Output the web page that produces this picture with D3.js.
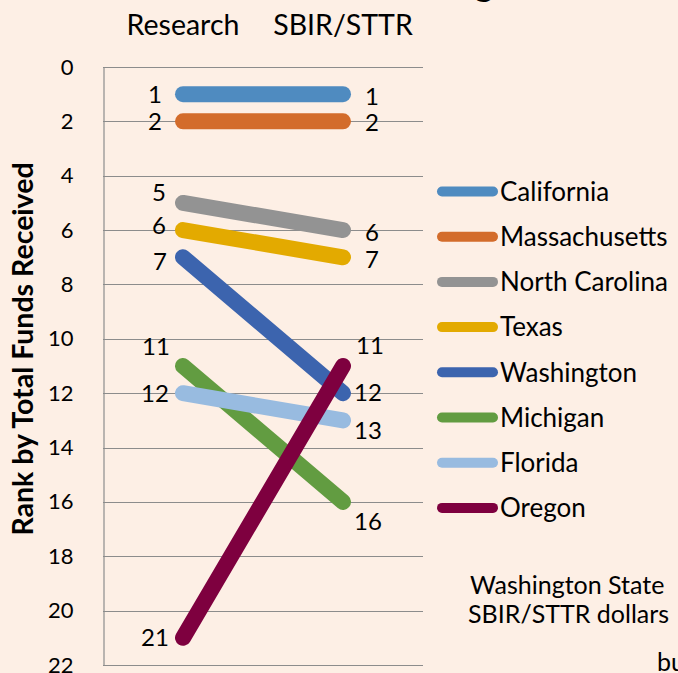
<!DOCTYPE html>
<html>
<head>
<meta charset="utf-8">
<script src="https://cdn.jsdelivr.net/npm/d3@7"></script>
<style>
    html, body { margin: 0; padding: 0; background: #fdefe5; }
    #rankChart { width: 678px; height: 673px; overflow: hidden; }
    text { font-family: Lato, "Open Sans", sans-serif; fill: #000; }
</style>
</head>
<body>
<div id="rankChart"></div>
<script>
// Funding categories (x axis, shown on top)
const categories = ["Research", "SBIR/STTR"];

// States in drawing order
const states = ["California", "Massachusetts", "North Carolina", "Texas",
    "Washington", "Michigan", "Florida", "Oregon"];

// Rank in each category, same order as states
const researchRank = [1, 2, 5, 6, 7, 11, 12, 21];
const sbirRank = [1, 2, 6, 7, 12, 16, 13, 11];

const stateColors = ["#4f8bc0", "#d36c2b", "#939393", "#e3aa00",
    "#3c64ae", "#629c41", "#98bbe0", "#7e003f"];

// y axis tick values
const rankTicks = [0, 2, 4, 6, 8, 10, 12, 14, 16, 18, 20, 22];

// Footnote lines that run off the slide
const noteLines = ["Washington State", "SBIR/STTR dollars", "bu"];

function drawRankChart() {
    const width = 678, height = 673;
    const plot = { left: 103, right: 423, top: 67, bottom: 665 };

    const svg = d3.select("#rankChart")
        .append("svg")
        .attr("width", width)
        .attr("height", height);

    svg.append("rect")
        .attr("width", width)
        .attr("height", height)
        .attr("fill", "#fdefe5");

    // leftover bit of the slide title (only the descender shows)
    svg.append("text")
        .attr("x", 484)
        .attr("y", -4)
        .attr("text-anchor", "middle")
        .style("font-size", "36px")
        .style("font-weight", "bold")
        .text("g");

    const x = d3.scaleBand()
        .domain(categories)
        .range([plot.left, plot.right]);

    const y = d3.scaleLinear()
        .domain([0, 22])
        .range([plot.top, plot.bottom]);

    const cx = c => x(c) + x.bandwidth() / 2;

    // horizontal gridlines
    svg.append("g")
        .selectAll("line")
        .data(rankTicks)
        .join("line")
        .attr("x1", plot.left)
        .attr("x2", plot.right)
        .attr("y1", d => Math.round(y(d)) + 0.5)
        .attr("y2", d => Math.round(y(d)) + 0.5)
        .attr("stroke", "#8c8c8c")
        .attr("stroke-width", 1.2);

    // Y axis
    const yAxis = svg.append("g")
        .attr("transform", `translate(${plot.left + 0.5},0)`)
        .call(d3.axisLeft(y).tickValues(rankTicks).tickSize(0).tickPadding(30));
    yAxis.select(".domain").attr("stroke", "#8c8c8c").attr("stroke-width", 1.2);
    yAxis.selectAll("text")
        .style("font-family", "Lato, sans-serif")
        .style("font-size", "22px")
        .attr("fill", "#000");

    // category axis on top
    const xAxis = svg.append("g")
        .attr("transform", `translate(0,${plot.top})`)
        .call(d3.axisTop(x).tickSize(0).tickPadding(32));
    xAxis.select(".domain").remove();
    xAxis.selectAll("text")
        .style("font-family", "Lato, sans-serif")
        .style("font-size", "28.5px")
        .attr("fill", "#000");

    // axis title
    svg.append("text")
        .attr("transform", "translate(33,349) rotate(-90)")
        .attr("text-anchor", "middle")
        .style("font-size", "28.5px")
        .style("font-weight", "bold")
        .text("Rank by Total Funds Received");

    const data = states.map((s, i) => ({
        name: s,
        color: stateColors[i],
        values: [
            { cat: categories[0], rank: researchRank[i] },
            { cat: categories[1], rank: sbirRank[i] }
        ]
    }));

    const line = d3.line()
        .x(d => cx(d.cat))
        .y(d => y(d.rank));

    svg.append("g")
        .selectAll("path")
        .data(data)
        .join("path")
        .attr("d", d => line(d.values))
        .attr("fill", "none")
        .attr("stroke", d => d.color)
        .attr("stroke-width", 16)
        .attr("stroke-linecap", "round");

    // label nudges (Excel had a few moved by hand)
    const leftNudge = { 5: [4, -11], 6: [4, -5], 7: [5, 4], 11: [1, -20] };
    const rightNudge = { 1: [2, 2], 2: [2, 1], 6: [2, 2], 7: [2, 2],
        11: [0, -21], 12: [-2, -1], 13: [-2, 10], 16: [-2, 19] };

    const labels = svg.append("g")
        .style("font-size", "24px")
        .attr("text-anchor", "middle");

    data.forEach(d => {
        const r0 = d.values[0].rank, r1 = d.values[1].rank;
        const n0 = leftNudge[r0] || [0, 0];
        const n1 = rightNudge[r1] || [0, 0];
        labels.append("text")
            .attr("x", cx(categories[0]) - 28 + n0[0])
            .attr("y", y(r0) + n0[1])
            .attr("dy", "0.36em")
            .text(r0);
        labels.append("text")
            .attr("x", cx(categories[1]) + 27 + n1[0])
            .attr("y", y(r1) + n1[1])
            .attr("dy", "0.36em")
            .text(r1);
    });

    // legend
    const legend = svg.append("g")
        .attr("transform", "translate(437,191.5)");

    const item = legend.selectAll("g")
        .data(data)
        .join("g")
        .attr("transform", (d, i) => `translate(0,${i * 45.2})`);

    item.append("line")
        .attr("x1", 5)
        .attr("x2", 56)
        .attr("stroke", d => d.color)
        .attr("stroke-width", 10)
        .attr("stroke-linecap", "round");

    item.append("text")
        .attr("x", 63)
        .attr("dy", "0.36em")
        .style("font-size", "26px")
        .text(d => d.name);

    // footnote (cut off by the slide edge)
    const noteX = [470, 468, 657];
    const noteY = [594, 623, 671];
    svg.append("g")
        .style("font-size", "25px")
        .selectAll("text")
        .data(noteLines)
        .join("text")
        .attr("x", (d, i) => noteX[i])
        .attr("y", (d, i) => noteY[i])
        .text(d => d);
}

drawRankChart();
</script>
</body>
</html>
